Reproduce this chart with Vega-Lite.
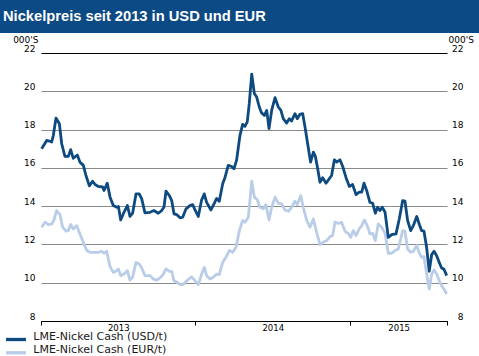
{
  "$schema": "https://vega.github.io/schema/vega-lite/v6.json",
  "padding": 0,
  "autosize": {"type": "pad"},
  "background": "white",
  "spacing": 20,
  "bounds": "flush",
  "config": {
    "view": {"stroke": null},
    "font": "DejaVu Sans"
  },
  "vconcat": [
    {
      "width": 479,
      "height": 33,
      "view": {"fill": "#0b4a84", "stroke": null},
      "data": {"values": []},
      "mark": "text",
      "title": {
        "text": "Nickelpreis seit 2013 in USD und EUR",
        "orient": "bottom",
        "anchor": "start",
        "frame": "group",
        "offset": 0,
        "dx": 3,
        "dy": -12,
        "baseline": "alphabetic",
        "color": "#ffffff",
        "font": "Liberation Sans",
        "fontSize": 14.7,
        "fontWeight": "bold"
      }
    },
    {
      "bounds": "flush",
      "spacing": 40,
      "hconcat": [
        {
          "width": 1,
          "height": 1,
          "data": {"values": []},
          "mark": "text"
        },
        {
          "width": 406,
          "height": 268,
          "data": {
            "values": [
              {"t": 2013.004, "s": "USD", "v": 17.0},
              {"t": 2013.037, "s": "USD", "v": 17.43},
              {"t": 2013.054, "s": "USD", "v": 17.4},
              {"t": 2013.069, "s": "USD", "v": 17.35},
              {"t": 2013.080, "s": "USD", "v": 17.7},
              {"t": 2013.097, "s": "USD", "v": 18.6},
              {"t": 2013.119, "s": "USD", "v": 18.3},
              {"t": 2013.134, "s": "USD", "v": 17.26},
              {"t": 2013.155, "s": "USD", "v": 16.6},
              {"t": 2013.177, "s": "USD", "v": 16.6},
              {"t": 2013.192, "s": "USD", "v": 16.95},
              {"t": 2013.209, "s": "USD", "v": 16.5},
              {"t": 2013.235, "s": "USD", "v": 16.67},
              {"t": 2013.252, "s": "USD", "v": 16.3},
              {"t": 2013.274, "s": "USD", "v": 16.13},
              {"t": 2013.291, "s": "USD", "v": 15.6},
              {"t": 2013.313, "s": "USD", "v": 15.06},
              {"t": 2013.334, "s": "USD", "v": 15.3},
              {"t": 2013.350, "s": "USD", "v": 15.13},
              {"t": 2013.371, "s": "USD", "v": 15.03},
              {"t": 2013.399, "s": "USD", "v": 15.0},
              {"t": 2013.408, "s": "USD", "v": 14.82},
              {"t": 2013.429, "s": "USD", "v": 15.2},
              {"t": 2013.447, "s": "USD", "v": 14.47},
              {"t": 2013.468, "s": "USD", "v": 14.03},
              {"t": 2013.490, "s": "USD", "v": 13.94},
              {"t": 2013.501, "s": "USD", "v": 13.98},
              {"t": 2013.516, "s": "USD", "v": 13.28},
              {"t": 2013.537, "s": "USD", "v": 13.68},
              {"t": 2013.559, "s": "USD", "v": 14.03},
              {"t": 2013.576, "s": "USD", "v": 13.46},
              {"t": 2013.593, "s": "USD", "v": 13.63},
              {"t": 2013.615, "s": "USD", "v": 14.64},
              {"t": 2013.636, "s": "USD", "v": 14.64},
              {"t": 2013.652, "s": "USD", "v": 14.38},
              {"t": 2013.673, "s": "USD", "v": 13.65},
              {"t": 2013.706, "s": "USD", "v": 13.68},
              {"t": 2013.731, "s": "USD", "v": 13.77},
              {"t": 2013.759, "s": "USD", "v": 13.63},
              {"t": 2013.781, "s": "USD", "v": 13.77},
              {"t": 2013.796, "s": "USD", "v": 13.94},
              {"t": 2013.809, "s": "USD", "v": 14.78},
              {"t": 2013.831, "s": "USD", "v": 14.55},
              {"t": 2013.846, "s": "USD", "v": 14.29},
              {"t": 2013.861, "s": "USD", "v": 13.6},
              {"t": 2013.878, "s": "USD", "v": 13.56},
              {"t": 2013.900, "s": "USD", "v": 13.39},
              {"t": 2013.917, "s": "USD", "v": 13.42},
              {"t": 2013.939, "s": "USD", "v": 13.86},
              {"t": 2013.964, "s": "USD", "v": 14.03},
              {"t": 2013.982, "s": "USD", "v": 14.08},
              {"t": 2013.997, "s": "USD", "v": 13.8},
              {"t": 2014.018, "s": "USD", "v": 13.46},
              {"t": 2014.040, "s": "USD", "v": 14.33},
              {"t": 2014.057, "s": "USD", "v": 14.64},
              {"t": 2014.072, "s": "USD", "v": 14.2},
              {"t": 2014.090, "s": "USD", "v": 13.94},
              {"t": 2014.100, "s": "USD", "v": 13.8},
              {"t": 2014.120, "s": "USD", "v": 14.12},
              {"t": 2014.137, "s": "USD", "v": 14.4},
              {"t": 2014.154, "s": "USD", "v": 14.26},
              {"t": 2014.176, "s": "USD", "v": 15.17},
              {"t": 2014.191, "s": "USD", "v": 15.5},
              {"t": 2014.212, "s": "USD", "v": 16.13},
              {"t": 2014.234, "s": "USD", "v": 16.07},
              {"t": 2014.249, "s": "USD", "v": 15.95},
              {"t": 2014.266, "s": "USD", "v": 16.4},
              {"t": 2014.288, "s": "USD", "v": 17.7},
              {"t": 2014.305, "s": "USD", "v": 18.27},
              {"t": 2014.320, "s": "USD", "v": 18.17},
              {"t": 2014.335, "s": "USD", "v": 18.4},
              {"t": 2014.348, "s": "USD", "v": 19.35},
              {"t": 2014.364, "s": "USD", "v": 20.9},
              {"t": 2014.381, "s": "USD", "v": 19.88},
              {"t": 2014.396, "s": "USD", "v": 19.7},
              {"t": 2014.413, "s": "USD", "v": 19.18},
              {"t": 2014.428, "s": "USD", "v": 18.87},
              {"t": 2014.446, "s": "USD", "v": 18.74},
              {"t": 2014.461, "s": "USD", "v": 19.0},
              {"t": 2014.476, "s": "USD", "v": 18.05},
              {"t": 2014.493, "s": "USD", "v": 19.0},
              {"t": 2014.515, "s": "USD", "v": 19.67},
              {"t": 2014.536, "s": "USD", "v": 19.18},
              {"t": 2014.553, "s": "USD", "v": 19.0},
              {"t": 2014.568, "s": "USD", "v": 18.57},
              {"t": 2014.590, "s": "USD", "v": 18.34},
              {"t": 2014.607, "s": "USD", "v": 18.57},
              {"t": 2014.622, "s": "USD", "v": 18.45},
              {"t": 2014.644, "s": "USD", "v": 18.83},
              {"t": 2014.659, "s": "USD", "v": 18.57},
              {"t": 2014.676, "s": "USD", "v": 18.8},
              {"t": 2014.694, "s": "USD", "v": 18.83},
              {"t": 2014.709, "s": "USD", "v": 18.13},
              {"t": 2014.726, "s": "USD", "v": 17.26},
              {"t": 2014.745, "s": "USD", "v": 16.3},
              {"t": 2014.763, "s": "USD", "v": 16.82},
              {"t": 2014.776, "s": "USD", "v": 16.6},
              {"t": 2014.789, "s": "USD", "v": 16.04},
              {"t": 2014.806, "s": "USD", "v": 15.25},
              {"t": 2014.823, "s": "USD", "v": 15.48},
              {"t": 2014.845, "s": "USD", "v": 15.2},
              {"t": 2014.866, "s": "USD", "v": 15.43},
              {"t": 2014.881, "s": "USD", "v": 15.6},
              {"t": 2014.899, "s": "USD", "v": 16.42},
              {"t": 2014.914, "s": "USD", "v": 16.3},
              {"t": 2014.935, "s": "USD", "v": 16.42},
              {"t": 2014.953, "s": "USD", "v": 16.07},
              {"t": 2014.974, "s": "USD", "v": 15.5},
              {"t": 2014.996, "s": "USD", "v": 15.03},
              {"t": 2015.017, "s": "USD", "v": 15.13},
              {"t": 2015.039, "s": "USD", "v": 14.6},
              {"t": 2015.060, "s": "USD", "v": 14.73},
              {"t": 2015.076, "s": "USD", "v": 14.73},
              {"t": 2015.091, "s": "USD", "v": 15.2},
              {"t": 2015.108, "s": "USD", "v": 14.82},
              {"t": 2015.129, "s": "USD", "v": 14.2},
              {"t": 2015.147, "s": "USD", "v": 14.15},
              {"t": 2015.164, "s": "USD", "v": 13.63},
              {"t": 2015.179, "s": "USD", "v": 13.94},
              {"t": 2015.194, "s": "USD", "v": 13.77},
              {"t": 2015.209, "s": "USD", "v": 13.94},
              {"t": 2015.227, "s": "USD", "v": 13.68},
              {"t": 2015.248, "s": "USD", "v": 12.37},
              {"t": 2015.270, "s": "USD", "v": 12.51},
              {"t": 2015.298, "s": "USD", "v": 12.55},
              {"t": 2015.319, "s": "USD", "v": 13.33},
              {"t": 2015.341, "s": "USD", "v": 14.29},
              {"t": 2015.356, "s": "USD", "v": 14.26},
              {"t": 2015.373, "s": "USD", "v": 13.25},
              {"t": 2015.393, "s": "USD", "v": 12.72},
              {"t": 2015.410, "s": "USD", "v": 12.98},
              {"t": 2015.432, "s": "USD", "v": 13.46},
              {"t": 2015.449, "s": "USD", "v": 13.04},
              {"t": 2015.464, "s": "USD", "v": 12.72},
              {"t": 2015.479, "s": "USD", "v": 12.69},
              {"t": 2015.496, "s": "USD", "v": 11.85},
              {"t": 2015.513, "s": "USD", "v": 10.6},
              {"t": 2015.529, "s": "USD", "v": 11.47},
              {"t": 2015.544, "s": "USD", "v": 11.64},
              {"t": 2015.561, "s": "USD", "v": 11.41},
              {"t": 2015.578, "s": "USD", "v": 11.06},
              {"t": 2015.593, "s": "USD", "v": 10.77},
              {"t": 2015.608, "s": "USD", "v": 10.71},
              {"t": 2015.626, "s": "USD", "v": 10.37},
              {"t": 2013.004, "s": "EUR", "v": 12.9},
              {"t": 2013.026, "s": "EUR", "v": 13.16},
              {"t": 2013.047, "s": "EUR", "v": 13.04},
              {"t": 2013.069, "s": "EUR", "v": 13.07},
              {"t": 2013.084, "s": "EUR", "v": 13.28},
              {"t": 2013.101, "s": "EUR", "v": 13.77},
              {"t": 2013.123, "s": "EUR", "v": 13.56},
              {"t": 2013.140, "s": "EUR", "v": 12.9},
              {"t": 2013.162, "s": "EUR", "v": 12.69},
              {"t": 2013.177, "s": "EUR", "v": 12.72},
              {"t": 2013.192, "s": "EUR", "v": 13.04},
              {"t": 2013.209, "s": "EUR", "v": 12.81},
              {"t": 2013.231, "s": "EUR", "v": 12.98},
              {"t": 2013.252, "s": "EUR", "v": 12.55},
              {"t": 2013.274, "s": "EUR", "v": 12.11},
              {"t": 2013.296, "s": "EUR", "v": 11.68},
              {"t": 2013.317, "s": "EUR", "v": 11.59},
              {"t": 2013.350, "s": "EUR", "v": 11.59},
              {"t": 2013.371, "s": "EUR", "v": 11.59},
              {"t": 2013.393, "s": "EUR", "v": 11.64},
              {"t": 2013.408, "s": "EUR", "v": 11.54},
              {"t": 2013.425, "s": "EUR", "v": 11.64},
              {"t": 2013.447, "s": "EUR", "v": 10.84},
              {"t": 2013.468, "s": "EUR", "v": 10.54},
              {"t": 2013.490, "s": "EUR", "v": 10.63},
              {"t": 2013.501, "s": "EUR", "v": 10.72},
              {"t": 2013.516, "s": "EUR", "v": 10.37},
              {"t": 2013.537, "s": "EUR", "v": 10.45},
              {"t": 2013.559, "s": "EUR", "v": 10.63},
              {"t": 2013.576, "s": "EUR", "v": 10.14},
              {"t": 2013.593, "s": "EUR", "v": 10.28},
              {"t": 2013.615, "s": "EUR", "v": 11.06},
              {"t": 2013.636, "s": "EUR", "v": 10.98},
              {"t": 2013.652, "s": "EUR", "v": 10.77},
              {"t": 2013.673, "s": "EUR", "v": 10.37},
              {"t": 2013.706, "s": "EUR", "v": 10.37},
              {"t": 2013.727, "s": "EUR", "v": 10.19},
              {"t": 2013.749, "s": "EUR", "v": 10.14},
              {"t": 2013.775, "s": "EUR", "v": 10.28},
              {"t": 2013.792, "s": "EUR", "v": 10.45},
              {"t": 2013.809, "s": "EUR", "v": 10.72},
              {"t": 2013.831, "s": "EUR", "v": 10.59},
              {"t": 2013.846, "s": "EUR", "v": 10.59},
              {"t": 2013.861, "s": "EUR", "v": 10.1},
              {"t": 2013.882, "s": "EUR", "v": 10.02},
              {"t": 2013.900, "s": "EUR", "v": 9.9},
              {"t": 2013.921, "s": "EUR", "v": 9.9},
              {"t": 2013.943, "s": "EUR", "v": 10.1},
              {"t": 2013.975, "s": "EUR", "v": 10.31},
              {"t": 2013.997, "s": "EUR", "v": 10.1},
              {"t": 2014.018, "s": "EUR", "v": 9.9},
              {"t": 2014.040, "s": "EUR", "v": 10.45},
              {"t": 2014.057, "s": "EUR", "v": 10.8},
              {"t": 2014.072, "s": "EUR", "v": 10.37},
              {"t": 2014.094, "s": "EUR", "v": 10.19},
              {"t": 2014.115, "s": "EUR", "v": 10.28},
              {"t": 2014.137, "s": "EUR", "v": 10.45},
              {"t": 2014.154, "s": "EUR", "v": 10.42},
              {"t": 2014.176, "s": "EUR", "v": 11.06},
              {"t": 2014.197, "s": "EUR", "v": 11.33},
              {"t": 2014.219, "s": "EUR", "v": 11.68},
              {"t": 2014.241, "s": "EUR", "v": 11.59},
              {"t": 2014.262, "s": "EUR", "v": 11.85},
              {"t": 2014.284, "s": "EUR", "v": 12.72},
              {"t": 2014.305, "s": "EUR", "v": 13.25},
              {"t": 2014.320, "s": "EUR", "v": 13.16},
              {"t": 2014.342, "s": "EUR", "v": 13.42},
              {"t": 2014.364, "s": "EUR", "v": 15.3},
              {"t": 2014.381, "s": "EUR", "v": 14.47},
              {"t": 2014.400, "s": "EUR", "v": 14.33},
              {"t": 2014.417, "s": "EUR", "v": 13.94},
              {"t": 2014.439, "s": "EUR", "v": 13.86},
              {"t": 2014.456, "s": "EUR", "v": 14.08},
              {"t": 2014.476, "s": "EUR", "v": 13.28},
              {"t": 2014.493, "s": "EUR", "v": 13.94},
              {"t": 2014.515, "s": "EUR", "v": 14.47},
              {"t": 2014.536, "s": "EUR", "v": 14.15},
              {"t": 2014.558, "s": "EUR", "v": 14.12},
              {"t": 2014.579, "s": "EUR", "v": 13.8},
              {"t": 2014.601, "s": "EUR", "v": 13.73},
              {"t": 2014.622, "s": "EUR", "v": 13.94},
              {"t": 2014.644, "s": "EUR", "v": 14.26},
              {"t": 2014.659, "s": "EUR", "v": 14.08},
              {"t": 2014.681, "s": "EUR", "v": 14.55},
              {"t": 2014.698, "s": "EUR", "v": 13.94},
              {"t": 2014.720, "s": "EUR", "v": 13.25},
              {"t": 2014.741, "s": "EUR", "v": 12.9},
              {"t": 2014.763, "s": "EUR", "v": 13.33},
              {"t": 2014.784, "s": "EUR", "v": 12.64},
              {"t": 2014.806, "s": "EUR", "v": 11.99},
              {"t": 2014.827, "s": "EUR", "v": 12.11},
              {"t": 2014.849, "s": "EUR", "v": 12.2},
              {"t": 2014.871, "s": "EUR", "v": 12.41},
              {"t": 2014.888, "s": "EUR", "v": 12.46},
              {"t": 2014.903, "s": "EUR", "v": 13.16},
              {"t": 2014.925, "s": "EUR", "v": 13.1},
              {"t": 2014.946, "s": "EUR", "v": 13.16},
              {"t": 2014.968, "s": "EUR", "v": 12.69},
              {"t": 2014.989, "s": "EUR", "v": 12.58},
              {"t": 2015.004, "s": "EUR", "v": 12.37},
              {"t": 2015.022, "s": "EUR", "v": 12.72},
              {"t": 2015.039, "s": "EUR", "v": 12.46},
              {"t": 2015.060, "s": "EUR", "v": 12.81},
              {"t": 2015.076, "s": "EUR", "v": 12.98},
              {"t": 2015.093, "s": "EUR", "v": 13.28},
              {"t": 2015.112, "s": "EUR", "v": 12.98},
              {"t": 2015.129, "s": "EUR", "v": 12.55},
              {"t": 2015.147, "s": "EUR", "v": 12.58},
              {"t": 2015.164, "s": "EUR", "v": 12.2},
              {"t": 2015.183, "s": "EUR", "v": 13.07},
              {"t": 2015.205, "s": "EUR", "v": 12.9},
              {"t": 2015.227, "s": "EUR", "v": 12.58},
              {"t": 2015.248, "s": "EUR", "v": 11.54},
              {"t": 2015.270, "s": "EUR", "v": 11.54},
              {"t": 2015.291, "s": "EUR", "v": 11.68},
              {"t": 2015.313, "s": "EUR", "v": 11.76},
              {"t": 2015.341, "s": "EUR", "v": 12.72},
              {"t": 2015.356, "s": "EUR", "v": 12.69},
              {"t": 2015.373, "s": "EUR", "v": 11.76},
              {"t": 2015.393, "s": "EUR", "v": 11.59},
              {"t": 2015.410, "s": "EUR", "v": 11.64},
              {"t": 2015.432, "s": "EUR", "v": 11.94},
              {"t": 2015.449, "s": "EUR", "v": 11.54},
              {"t": 2015.464, "s": "EUR", "v": 11.33},
              {"t": 2015.479, "s": "EUR", "v": 11.36},
              {"t": 2015.496, "s": "EUR", "v": 10.45},
              {"t": 2015.513, "s": "EUR", "v": 9.67},
              {"t": 2015.529, "s": "EUR", "v": 10.45},
              {"t": 2015.544, "s": "EUR", "v": 10.66},
              {"t": 2015.561, "s": "EUR", "v": 10.45},
              {"t": 2015.578, "s": "EUR", "v": 10.1},
              {"t": 2015.593, "s": "EUR", "v": 9.84},
              {"t": 2015.608, "s": "EUR", "v": 9.67},
              {"t": 2015.626, "s": "EUR", "v": 9.41}
            ]
          },
          "layer": [
            {
              "transform": [{"filter": "datum.s == 'EUR'"}],
              "mark": {"type": "line", "strokeWidth": 2.8, "strokeJoin": "round"},
              "encoding": {
                "x": {
                  "field": "t", "type": "quantitative",
                  "scale": {"domain": [2013, 2015.628], "nice": false, "zero": false},
                  "axis": {
                    "orient": "bottom", "values": [2013.5, 2014.5, 2015.315],
                    "labelExpr": "'' + floor(datum.value)",
                    "ticks": false, "tickSize": 0, "domain": false, "grid": false,
                    "labelPadding": 2, "labelFont": "DejaVu Sans", "labelFontSize": 8.5,
                    "labelColor": "#000000", "labelBaseline": "top", "labelFlush": false,
                    "labelOverlap": false, "title": null
                  }
                },
                "y": {
                  "field": "v", "type": "quantitative",
                  "scale": {"domain": [8, 22], "nice": false, "zero": false},
                  "axis": {
                    "orient": "right", "values": [8, 10, 12, 14, 16, 18, 20, 22],
                    "grid": false, "domain": false, "ticks": false, "tickSize": 0,
                    "labelPadding": 16, "labelAlign": "right", "labelBaseline": "bottom",
                    "labelFont": "DejaVu Sans", "labelFontSize": 9, "labelColor": "#000000",
                    "labelFlush": false, "labelOverlap": false,
                    "title": "000'S", "titleAngle": 0, "titleAlign": "left", "titleBaseline": "alphabetic",
                    "titleX": 1, "titleY": -11, "titleFont": "DejaVu Sans", "titleFontSize": 9,
                    "titleFontWeight": "normal", "titleColor": "#000000"
                  }
                },
                "color": {
                  "field": "s", "type": "nominal",
                  "scale": {"domain": ["USD", "EUR"], "range": ["#0d4a80", "#b9cde9"]},
                  "legend": {
                    "orient": "none", "legendX": 10, "legendY": 333.5, "title": null,
                    "direction": "vertical",
                    "symbolType": "M-2.5,0H2.5", "symbolStrokeWidth": 3.3, "symbolSize": 64,
                    "labelFont": "DejaVu Sans", "labelFontSize": 11, "labelColor": "#1a1a1a",
                    "labelBaseline": "alphabetic", "rowPadding": -2.7, "labelOffset": 11.3, "padding": 0,
                    "labelExpr": "'LME-Nickel Cash (' + datum.label + '/t)'"
                  }
                }
              }
            },
            {
              "transform": [{"filter": "datum.s == 'USD'"}],
              "mark": {"type": "line", "strokeWidth": 2.8, "strokeJoin": "round"},
              "encoding": {
                "x": {
                  "field": "t", "type": "quantitative",
                  "scale": {"domain": [2013, 2015.628], "nice": false, "zero": false},
                  "axis": {
                    "orient": "bottom", "values": [2013, 2014, 2015, 2015.628],
                    "labels": false, "ticks": true, "tickSize": 4, "tickColor": "#000000", "tickWidth": 1,
                    "domain": true, "domainColor": "#000000", "domainWidth": 1.2, "grid": false,
                    "title": null
                  }
                },
                "y": {
                  "field": "v", "type": "quantitative",
                  "scale": {"domain": [8, 22], "nice": false, "zero": false},
                  "axis": {
                    "orient": "left", "values": [8, 10, 12, 14, 16, 18, 20, 22],
                    "grid": true,
                    "gridColor": {"condition": {"test": "datum.value >= 22 || datum.value <= 8", "value": "#000000"}, "value": "#8a8a8a"},
                    "gridWidth": 1.1,
                    "domain": false, "ticks": false, "tickSize": 0,
                    "labelPadding": 6, "labelBaseline": "bottom",
                    "labelFont": "DejaVu Sans", "labelFontSize": 9, "labelColor": "#000000",
                    "labelFlush": false, "labelOverlap": false,
                    "title": "000'S", "titleAngle": 0, "titleAlign": "right", "titleBaseline": "alphabetic",
                    "titleX": -3, "titleY": -11, "titleFont": "DejaVu Sans", "titleFontSize": 9,
                    "titleFontWeight": "normal", "titleColor": "#000000"
                  }
                },
                "color": {
                  "field": "s", "type": "nominal",
                  "scale": {"domain": ["USD", "EUR"], "range": ["#0d4a80", "#b9cde9"]}
                }
              }
            }
          ],
          "resolve": {"axis": {"x": "independent", "y": "independent"}}
        }
      ]
    }
  ]
}
